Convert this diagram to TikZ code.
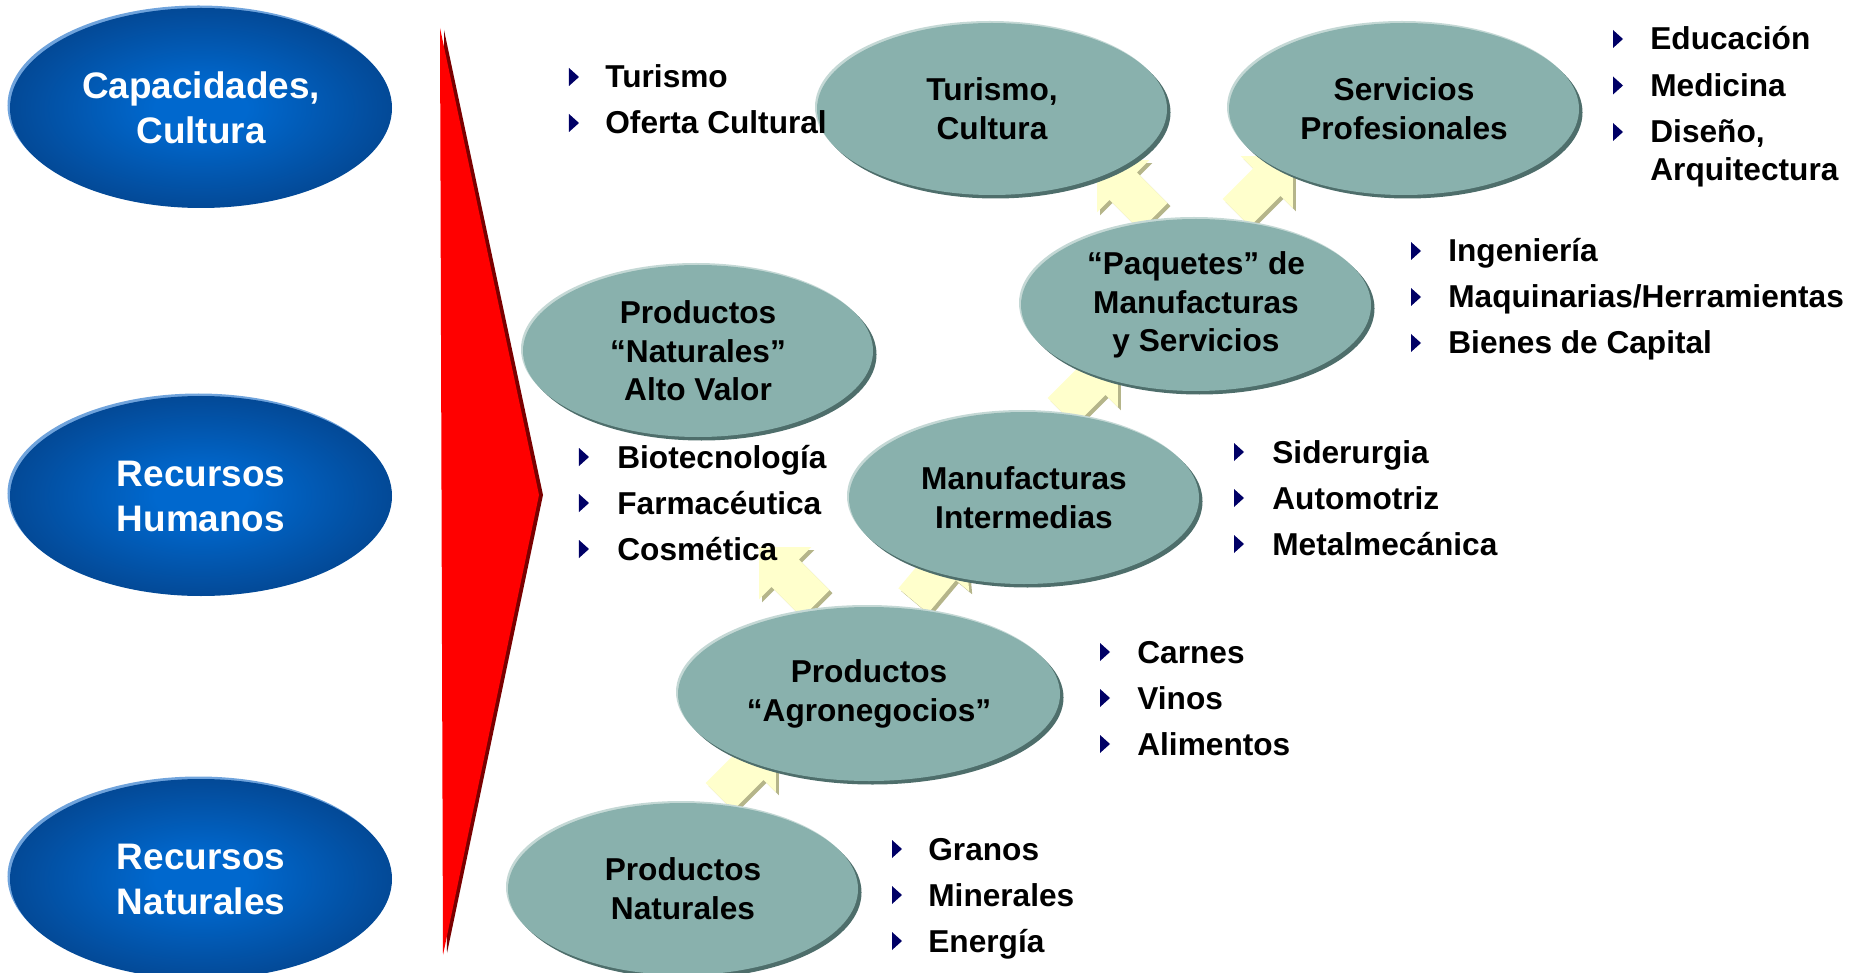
\documentclass[tikz,border=0pt]{standalone}
\usepackage{fontspec}
\setmainfont{Liberation Sans}
\usepackage{xcolor}
\usepackage{tikz}
\usetikzlibrary{positioning,shapes.geometric,shapes.arrows,shadows}
\definecolor{NavyBullet}{HTML}{000066}
\definecolor{BlueIn}{HTML}{0068CE}
\definecolor{BlueOut}{HTML}{06316B}
\definecolor{BlueRim}{HTML}{6FA3DC}
\definecolor{Sage}{HTML}{89B1AD}
\definecolor{SageDark}{HTML}{4E6E6B}
\definecolor{SageLight}{HTML}{C4D8D5}
\definecolor{LiftYellow}{HTML}{FFFFCC}
\definecolor{LiftShade}{HTML}{B5B58A}
\definecolor{WedgeRed}{HTML}{FF0000}
\definecolor{WedgeDark}{HTML}{7A0000}
\pgfdeclareradialshading{glow}{\pgfpoint{0bp}{0bp}}{color(0bp)=(BlueIn); color(6bp)=(BlueIn); color(40bp)=(BlueOut); color(50bp)=(BlueOut)}

\begin{document}
\begin{tikzpicture}[
    x=0.2mm, y=-0.2mm,
    source/.style={ellipse, shading=glow, minimum width=76.4mm, minimum height=40mm, inner sep=0pt, align=center, text=white, font=\fontsize{21}{25.6}\selectfont\bfseries, drop shadow={shadow xshift=-0.5mm, shadow yshift=0.5mm, fill=BlueRim, opacity=1}},
    stage/.style={ellipse, fill=Sage, minimum width=70mm, minimum height=34.4mm, inner sep=0pt, align=center, font=\fontsize{18}{22}\selectfont\bfseries, drop shadow={shadow xshift=-0.4mm, shadow yshift=0.4mm, fill=SageLight, opacity=1}, drop shadow={shadow xshift=0.7mm, shadow yshift=-0.7mm, fill=SageDark, opacity=1}},
    wide/.style={stage, minimum width=76.4mm, minimum height=34.8mm},
    lift/.style={single arrow, fill=LiftYellow, minimum height=16mm, minimum width=14.6mm, single arrow head extend=3.5mm, inner xsep=0pt, inner ysep=3.8mm, anchor=tail, drop shadow={shadow xshift=0.6mm, shadow yshift=-0.6mm, fill=LiftShade, opacity=1}},
    bul/.style={isosceles triangle, isosceles triangle stretches, fill=NavyBullet, minimum width=3.6mm, minimum height=2mm, inner sep=0pt},
    item/.style={anchor=base west, inner sep=0pt, font=\fontsize{18}{21.6}\selectfont\bfseries}
]
\useasboundingbox (0,0) rectangle (1857,973);
% red wedge
\fill[WedgeDark] (444,30) -- (543,495) -- (447,953) -- cycle;
\fill[WedgeRed] (440,28) -- (539,495) -- (443,955) -- cycle;
% lift arrows, behind the ellipses
\node[lift, rotate=45] (l1) at (719,797) {};
\node[lift, rotate=135] (l2) at (816,604) {};
\node[lift, rotate=50] (l3) at (913,601) {};
\node[lift, rotate=45] (l4) at (1061,412) {};
\node[lift, rotate=135] (l5) at (1154,217) {};
\node[lift, rotate=45] (l6) at (1236,213) {};
% sources
\node[source] (cap) at (201,108) {Capacidades,\\Cultura};
\node[source] (hum) at (201,496) {Recursos\\Humanos};
\node[source] (rec) at (201,879) {Recursos\\Naturales};
% stages
\node[stage] (pnat) at (683,889) {Productos\\Naturales};
\node[wide] (agro) at (869,694) {Productos\\“Agronegocios”};
\node[stage] (alto) at (698,351) {Productos\\“Naturales”\\Alto Valor};
\node[stage] (inter) at (1024,498) {Manufacturas\\Intermedias};
\node[stage] (paq) at (1196,305) {“Paquetes” de\\Manufacturas\\y Servicios};
\node[stage] (tur) at (992,109) {Turismo,\\Cultura};
\node[stage] (serv) at (1404,109) {Servicios\\Profesionales};
% lists
\foreach \t [count=\i from 0] in {Turismo,Oferta Cultural}{
  \node[bul] (tcb\i) at (573,{77+46*\i}) {};
  \node[item] (tci\i) at (605,{88+46*\i}) {\t};
}
\foreach \t [count=\i from 0] in {Educación,Medicina,{Diseño,}}{
  \node[bul] (spb\i) at (1617,{39+46.5*\i}) {};
  \node[item] (spi\i) at (1650,{50+46.5*\i}) {\t};
}
\node[item] (spi3) at (1650,181) {Arquitectura};
\foreach \t [count=\i from 0] in {Ingeniería,Maquinarias/Herramientas,Bienes de Capital}{
  \node[bul] (pqb\i) at (1415,{251+46*\i}) {};
  \node[item] (pqi\i) at (1448,{262+46*\i}) {\t};
}
\foreach \t [count=\i from 0] in {Biotecnología,Farmacéutica,Cosmética}{
  \node[bul] (avb\i) at (583,{457+46*\i}) {};
  \node[item] (avi\i) at (617,{468+46*\i}) {\t};
}
\foreach \t [count=\i from 0] in {Siderurgia,Automotriz,Metalmecánica}{
  \node[bul] (mib\i) at (1238,{452+46*\i}) {};
  \node[item] (mii\i) at (1272,{463+46*\i}) {\t};
}
\foreach \t [count=\i from 0] in {Carnes,Vinos,Alimentos}{
  \node[bul] (agb\i) at (1104,{652+46*\i}) {};
  \node[item] (agi\i) at (1137,{663+46*\i}) {\t};
}
\foreach \t [count=\i from 0] in {Granos,Minerales,Energía}{
  \node[bul] (pnb\i) at (896,{849+46*\i}) {};
  \node[item] (pni\i) at (928,{860+46*\i}) {\t};
}
\end{tikzpicture}
\end{document}
